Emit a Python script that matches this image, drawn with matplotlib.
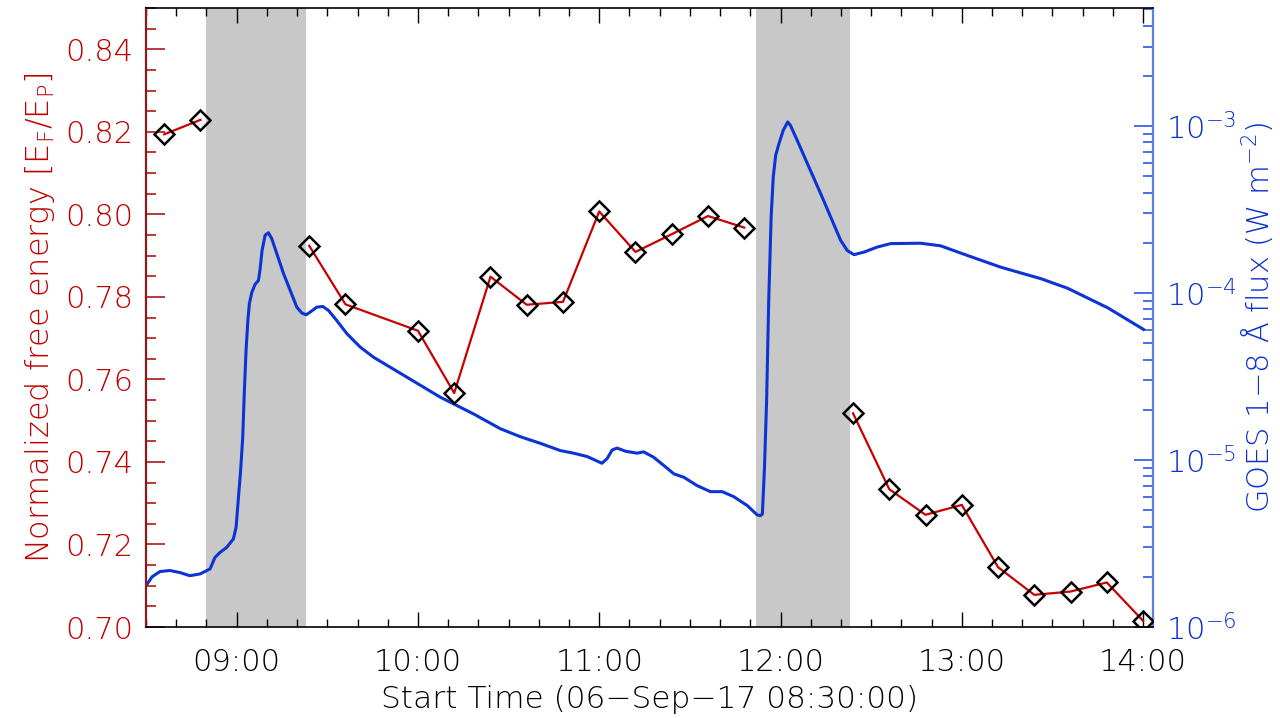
import numpy as np
import matplotlib.pyplot as plt
from matplotlib.ticker import FixedLocator, MultipleLocator, LogLocator, NullFormatter

plt.rcParams['font.family'] = ['DejaVu Sans']
plt.rcParams['font.weight'] = 'light'
plt.rcParams['axes.labelweight'] = 'light'
plt.rcParams['mathtext.default'] = 'regular'

# free energy ratio, HMI 12-min cadence
fe_times = ['08:36', '08:48', '09:24', '09:36', '10:00', '10:12', '10:24', '10:36',
            '10:48', '11:00', '11:12', '11:24', '11:36', '11:48', '12:24', '12:36',
            '12:48', '13:00', '13:12', '13:24', '13:36', '13:48', '14:00']
fe_values = [0.8194, 0.8229, 0.7924, 0.7782, 0.7718, 0.7567, 0.7849, 0.7781,
             0.7788, 0.8007, 0.7909, 0.7952, 0.7996, 0.7968, 0.7518, 0.7334,
             0.7272, 0.7296, 0.7145, 0.7078, 0.7086, 0.7108, 0.7015]

# GOES 1-8 A flux, minutes after 08:30
goes_min = [0.0, 2.0, 4.6, 7.9, 11.2, 14.5, 17.9, 21.2, 22.8, 24.5, 26.7, 28.9,
            29.8, 30.5, 31.3, 32.0, 32.5, 33.1, 33.7, 34.2, 35.0, 36.1, 37.2,
            37.7, 38.4, 39.4, 40.5, 41.6, 43.3, 45.5, 47.7, 49.9, 51.6, 53.0,
            54.3, 56.5, 58.5, 60.4, 63.1, 66.5, 70.9, 75.3, 86.3, 97.4, 108.4,
            117.3, 123.9, 130.5, 137.1, 141.5, 146.0, 150.9, 152.6, 154.3, 155.9,
            158.7, 162.5, 164.7, 168.0, 171.4, 174.7, 178.0, 182.4, 186.8, 190.7,
            194.5, 199.0, 202.3, 203.4, 204.0, 204.7, 205.4, 206.1, 206.9, 207.6,
            208.4, 209.5, 210.9, 212.4, 213.3, 215.5, 218.9, 223.3, 226.6, 229.9,
            232.1, 234.3, 237.6, 242.1, 246.5, 256.4, 263.0, 271.9, 282.9, 296.2,
            305.0, 318.3, 330.1]
goes_flux = [1.77e-6, 2.00e-6, 2.15e-6, 2.18e-6, 2.12e-6, 2.03e-6, 2.08e-6, 2.23e-6,
             2.61e-6, 2.80e-6, 3.00e-6, 3.37e-6, 3.95e-6, 5.72e-6, 8.65e-6, 1.37e-5,
             2.49e-5, 4.54e-5, 6.86e-5, 8.64e-5, 1.01e-4, 1.13e-4, 1.19e-4, 1.37e-4,
             1.80e-4, 2.22e-4, 2.30e-4, 2.12e-4, 1.72e-4, 1.31e-4, 1.04e-4, 8.24e-5,
             7.59e-5, 7.42e-5, 7.69e-5, 8.24e-5, 8.32e-5, 7.87e-5, 6.86e-5, 5.71e-5,
             4.75e-5, 4.13e-5, 3.14e-5, 2.38e-5, 1.89e-5, 1.54e-5, 1.38e-5, 1.26e-5,
             1.14e-5, 1.10e-5, 1.05e-5, 9.57e-6, 1.02e-5, 1.15e-5, 1.18e-5, 1.13e-5,
             1.10e-5, 1.12e-5, 1.04e-5, 9.27e-6, 8.27e-6, 7.89e-6, 7.03e-6, 6.47e-6,
             6.47e-6, 6.04e-6, 5.34e-6, 4.69e-6, 4.65e-6, 4.76e-6, 9.05e-6, 2.27e-5,
             9.04e-5, 2.86e-4, 4.96e-4, 6.69e-4, 7.87e-4, 9.45e-4, 1.06e-3, 1.01e-3,
             8.24e-4, 5.97e-4, 3.94e-4, 2.86e-4, 2.07e-4, 1.80e-4, 1.70e-4, 1.76e-4,
             1.89e-4, 1.98e-4, 1.99e-4, 1.92e-4, 1.68e-4, 1.43e-4, 1.22e-4, 1.07e-4,
             8.17e-5, 6.07e-5]

# flare intervals (shaded)
flare_spans = [('08:50', '09:23'), ('11:52', '12:23')]

tick_labels = ['09:00', '10:00', '11:00', '12:00', '13:00', '14:00']


def to_min(s):
    h, m = s.split(':')
    return (int(h) - 8) * 60 + int(m) - 30


red = '#bf0000'
blue = '#0b33d6'

fig = plt.figure(figsize=(12.8, 7.18), dpi=100)
ax = fig.add_axes([0.1141, 0.1267, 0.7867, 0.8621])
ax2 = ax.twinx()
ax.set_zorder(ax2.get_zorder() + 1)
ax.patch.set_visible(False)

for t0, t1 in flare_spans:
    ax2.axvspan(to_min(t0), to_min(t1), color='#c8c8c8', lw=0, zorder=0)

ax2.plot(goes_min, goes_flux, color=blue, lw=2.2, zorder=2)
ax2.set_yscale('log')
ax2.set_ylim(1e-6, 5.1e-3)

# break the line across the flare gaps
fe_t = np.array([to_min(t) for t in fe_times], dtype=float)
fe_v = np.array(fe_values)
gap = np.where(np.diff(fe_t) > 30)[0] + 1
line_t = np.insert(fe_t, gap, np.nan)
line_v = np.insert(fe_v, gap, np.nan)
ax.plot(line_t, line_v, color='#c80000', lw=1.6, zorder=3)
ax.plot(fe_t, fe_v, ls='none', marker='D', ms=10, mfc='none', mec='black',
        mew=1.8, zorder=4)
ax.set_xlim(0, 333.3)
ax.set_ylim(0.70, 0.85)

# x axis
ax.xaxis.set_major_locator(FixedLocator([to_min(s) for s in tick_labels]))
ax.set_xticklabels(tick_labels)
ax.xaxis.set_minor_locator(MultipleLocator(10))
ax.tick_params(axis='x', which='both', direction='in', top=True, bottom=True,
               colors='black', labelsize=22, pad=15)
ax.tick_params(axis='x', which='major', length=11, width=1)
ax.tick_params(axis='x', which='minor', length=6, width=1)
ax.set_xlabel('Start Time (06\u2212Sep\u221217 08:30:00)', fontsize=22.5, labelpad=6)

# left axis
ax.yaxis.set_major_locator(MultipleLocator(0.02))
ax.yaxis.set_minor_locator(MultipleLocator(0.005))
ax.yaxis.set_major_formatter(plt.FormatStrFormatter('%.2f'))
ax.tick_params(axis='y', which='both', direction='in', left=True, right=False,
               colors='#b01818', labelcolor=red, labelsize=22, pad=9)
ax.tick_params(axis='y', which='major', length=14, width=1.2)
ax.tick_params(axis='y', which='minor', length=7, width=1.2)
ax.set_ylabel(r'Normalized free energy $[E_F/E_P]$', color=red, fontsize=23, labelpad=6)

# right axis
ax2.yaxis.set_major_locator(LogLocator(base=10))
ax2.yaxis.set_minor_locator(LogLocator(base=10, subs=np.arange(2, 10)))
ax2.yaxis.set_minor_formatter(NullFormatter())
ax2.tick_params(axis='y', which='both', direction='in', colors='#2a55e6',
                labelcolor='#0a30d0', labelsize=22, pad=9)
ax2.tick_params(axis='y', which='major', length=14, width=1.2)
ax2.tick_params(axis='y', which='minor', length=7, width=1.2)
ax2.set_ylabel('GOES 1\u22128 \u00c5 flux (W m$^{-2}$)', color='#0a30d0', fontsize=22,
               labelpad=1)

for s in ['top', 'bottom']:
    ax.spines[s].set_color('black')
    ax.spines[s].set_linewidth(1.2)
ax.spines['left'].set_color('#8b1a1a')
ax.spines['left'].set_linewidth(1.6)
ax.spines['right'].set_visible(False)
ax2.spines['left'].set_visible(False)
ax2.spines['top'].set_visible(False)
ax2.spines['bottom'].set_visible(False)
ax2.spines['right'].set_color('#5a7ff0')
ax2.spines['right'].set_linewidth(1.6)

fig.savefig('out.png', dpi=100)
